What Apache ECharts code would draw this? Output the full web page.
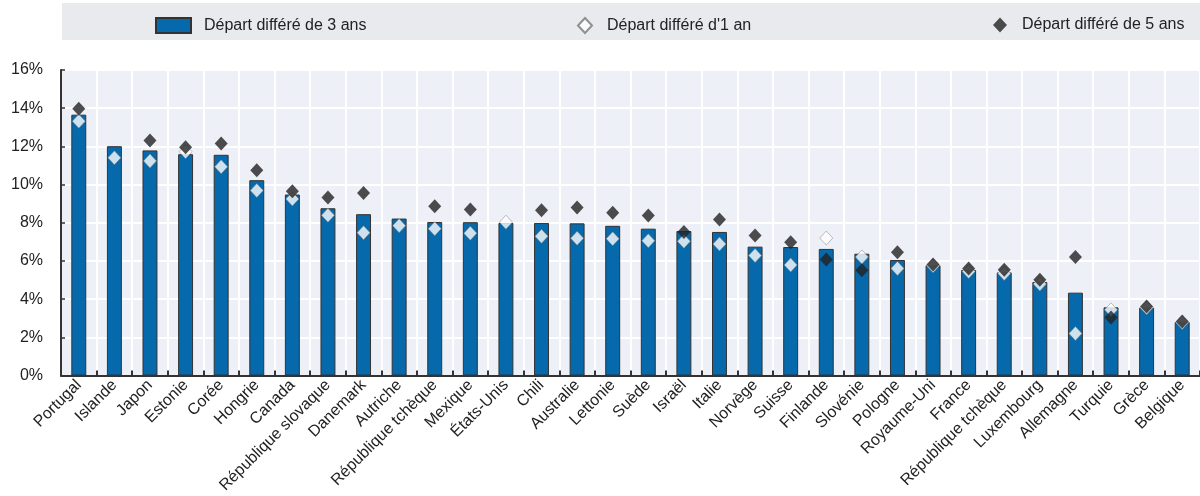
<!DOCTYPE html>
<html>
<head>
<meta charset="utf-8">
<script src="https://cdn.jsdelivr.net/npm/echarts@6/dist/echarts.min.js"></script>
<style>
html,body{margin:0;padding:0;background:#fff;}
#chart{width:1200px;height:496px;}
</style>
</head>
<body>
<div id="chart"></div>
<script>
const categories = ["Portugal","Islande","Japon","Estonie","Corée","Hongrie","Canada","République slovaque","Danemark","Autriche","République tchèque","Mexique","États-Unis","Chili","Australie","Lettonie","Suède","Israël","Italie","Norvège","Suisse","Finlande","Slovénie","Pologne","Royaume-Uni","France","République tchèque","Luxembourg","Allemagne","Turquie","Grèce","Belgique"];
const defer3 = [13.66,12.01,11.79,11.59,11.56,10.23,9.48,8.76,8.45,8.22,8.04,8.03,7.99,7.99,7.97,7.84,7.69,7.57,7.52,6.75,6.73,6.63,6.38,6.05,5.77,5.53,5.40,4.90,4.34,3.57,3.55,2.80];
const defer1 = [13.32,11.40,11.24,11.72,10.93,9.69,9.25,8.39,7.48,7.85,7.69,7.45,8.03,7.29,7.19,7.16,7.06,7.03,6.89,6.28,5.79,7.20,6.21,5.61,5.75,5.45,5.35,4.80,2.20,3.44,3.55,2.78];
const defer5 = [13.97,null,12.31,11.96,12.15,10.75,9.65,9.32,9.56,null,8.87,8.69,null,8.66,8.80,8.52,8.38,7.52,8.17,7.33,6.98,6.08,5.51,6.45,5.81,5.60,5.54,5.02,6.21,3.04,3.62,2.83];
const yTicks = [0,2,4,6,8,10,12,14,16];

const names = ["Départ différé de 3 ans","Départ différé d'1 an","Départ différé de 5 ans"];
const FONT = "Liberation Sans, Arial, sans-serif";

const chart = echarts.init(document.getElementById('chart'), null, {renderer:'canvas'});
chart.setOption({
  animation:false,
  textStyle:{fontFamily:FONT},
  graphic:[{type:'rect', shape:{x:62,y:3,width:1138,height:37}, style:{fill:'#e9eaed'}, z:-1}],
  legend:[
    {data:[names[0]], left:150, top:12, itemWidth:35, itemHeight:15, icon:'rect', textStyle:{fontSize:16,color:'#222',fontFamily:FONT,padding:[0,0,0,8]}},
    {data:[names[1]], left:572, top:12, itemWidth:14, itemHeight:15, textStyle:{fontSize:16,color:'#222',fontFamily:FONT,padding:[0,0,0,10]}},
    {data:[names[2]], left:988, top:12, itemWidth:14, itemHeight:15, textStyle:{fontSize:16,color:'#222',fontFamily:FONT,padding:[0,0,0,10]}}
  ],
  grid:{left:61, right:-8, top:70, bottom:119, show:true, backgroundColor:'#edf0f7', borderColor:'#333', borderWidth:1},
  xAxis:{
    type:'category', data:categories, boundaryGap:true,
    axisLine:{lineStyle:{color:'#333',width:2}},
    axisTick:{show:true, inside:true, length:5, lineStyle:{color:'#333',width:2}},
    axisLabel:{rotate:45, fontSize:16, color:'#222', fontFamily:FONT, interval:0, margin:7},
    splitLine:{show:true, lineStyle:{color:'#ffffff',width:2}}
  },
  yAxis:{
    type:'value', min:yTicks[0], max:yTicks[yTicks.length-1], interval:2,
    axisLine:{show:true, lineStyle:{color:'#333',width:2}},
    axisTick:{show:true, inside:true, length:4, lineStyle:{color:'#333',width:1.5}},
    axisLabel:{formatter:'{value}%', fontSize:16, color:'#222', fontFamily:FONT, margin:18},
    splitLine:{show:true, lineStyle:{color:'#ffffff',width:2}}
  },
  series:[
    {name:names[0], type:'bar', data:defer3, barWidth:'42%',
     itemStyle:{color:'#0569ac', borderColor:'#333', borderWidth:1}},
    {name:names[1], type:'scatter', data:defer1, symbol:'diamond', symbolSize:[13,14], z:3,
     itemStyle:{color:'#ffffff', borderColor:'#777', borderWidth:0.6}},
    {name:names[2], type:'scatter', data:defer5, symbol:'diamond', symbolSize:[13,14], z:4,
     itemStyle:{color:'#222222'}}
  ]
});
</script>
</body>
</html>
